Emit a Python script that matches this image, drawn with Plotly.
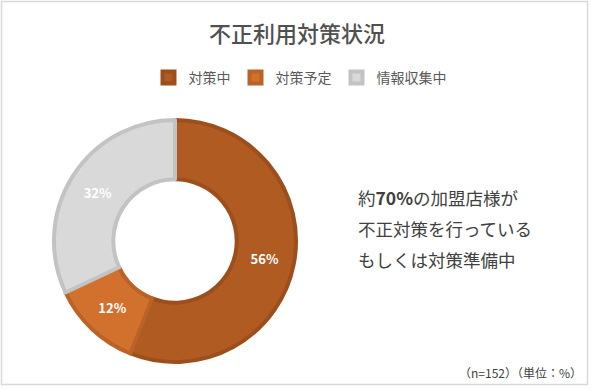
import plotly.graph_objects as go

categories = ["対策中", "対策予定", "情報収集中"]
values = [56, 12, 32]
fill_colors = ["#B05B22", "#D2702D", "#D9D9D9"]
line_colors = ["#9C4F1C", "#BC6226", "#C3C3C3"]

title_text = "不正利用対策状況"
note_lines = ["約<b>70%</b>の加盟店様が", "不正対策を行っている", "もしくは対策準備中"]
footnote = "（n=152）（単位：%）"

FONT = "Noto Sans CJK JP"
W, H = 600, 389

fig = go.Figure()
fig.add_trace(go.Pie(
    labels=categories,
    values=values,
    sort=False,
    direction="clockwise",
    rotation=0,
    hole=0.51,
    marker=dict(colors=fill_colors, line=dict(color=line_colors, width=4)),
    texttemplate="<b>%{value}%</b>",
    textposition="inside",
    insidetextorientation="horizontal",
    textfont=dict(family=FONT, size=13, color="white"),
    domain=dict(x=[52 / W, 298 / W], y=[1 - 362 / H, 1 - 120 / H]),
    showlegend=True,
))

annotations = [
    dict(text=title_text, x=297 / W, y=1 - 32 / H, xref="paper", yref="paper",
         showarrow=False, xanchor="center", yanchor="middle",
         font=dict(family=FONT, size=22, color="#505050", weight=500)),
]
for i, line in enumerate(note_lines):
    annotations.append(dict(text=line, x=356 / W, y=1 - (197 + 31 * i) / H,
                            xref="paper", yref="paper", showarrow=False,
                            xanchor="left", yanchor="middle",
                            font=dict(family=FONT, size=17.5, color="#404040")))
annotations.append(dict(text=footnote, x=584 / W, y=1 - 372 / H, xref="paper", yref="paper",
                        showarrow=False, xanchor="right", yanchor="middle",
                        font=dict(family=FONT, size=12, color="#404040")))

shapes = [dict(type="rect", xref="paper", yref="paper",
               x0=1.5 / W, x1=587.5 / W, y0=1 - 384.5 / H, y1=1 - 1.5 / H,
               line=dict(color="#D9D9D9", width=1.5))]

fig.update_layout(
    width=W, height=H,
    margin=dict(l=0, r=0, t=0, b=0),
    paper_bgcolor="white",
    plot_bgcolor="white",
    font=dict(family=FONT, color="#595959"),
    legend=dict(orientation="h", x=300 / W, xanchor="center", y=1 - 78 / H, yanchor="middle",
                font=dict(family=FONT, size=14, color="#595959"),
                itemwidth=30, traceorder="normal"),
    annotations=annotations,
    shapes=shapes,
)

fig.write_html("out.html", config={"displayModeBar": False},
               post_script="document.body.style.margin='0';document.body.style.overflow='hidden';")
